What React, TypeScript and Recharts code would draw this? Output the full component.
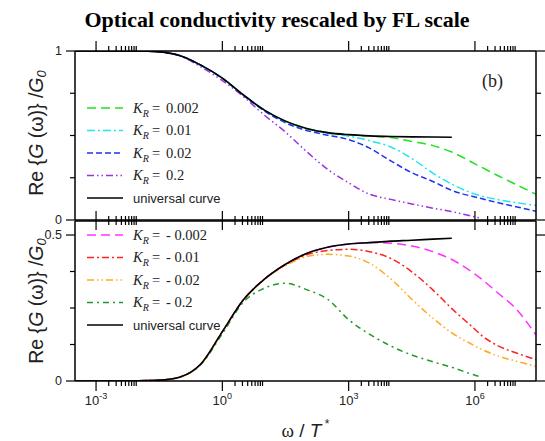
import React from 'react';
import { LineChart, Line, XAxis, YAxis } from 'recharts';

// log10(omega / T*) sample points shared by every curve
const logOmega = [-3.5, -3, -2.5, -2, -1.5, -1, -0.5, 0, 0.5, 1, 1.5, 2, 2.5, 3, 3.5, 4, 4.5, 5, 5.45, 6, 6.15, 6.5, 7, 7.45];

// upper panel (K_R > 0)
const universalTop = [1, 1, 1, 1, 0.995, 0.972, 0.915, 0.84, 0.74, 0.65, 0.585, 0.542, 0.517, 0.505, 0.498, 0.494, 0.492, 0.491, 0.49, null, null, null, null, null];
const kr0002 = [1, 1, 1, 1, 0.995, 0.972, 0.915, 0.84, 0.74, 0.65, 0.585, 0.542, 0.517, 0.505, 0.497, 0.488, 0.465, 0.44, 0.402, 0.332, 0.313, 0.268, 0.207, 0.152];
const kr001 = [1, 1, 1, 1, 0.995, 0.972, 0.915, 0.84, 0.74, 0.65, 0.583, 0.54, 0.513, 0.496, 0.469, 0.432, 0.364, 0.277, 0.212, 0.153, 0.142, 0.123, 0.102, 0.086];
const kr002 = [1, 1, 1, 1, 0.995, 0.972, 0.914, 0.838, 0.737, 0.645, 0.575, 0.53, 0.502, 0.476, 0.425, 0.35, 0.28, 0.228, 0.175, 0.136, 0.127, 0.105, 0.077, 0.052];
const kr02 = [1, 1, 1, 1, 0.995, 0.97, 0.905, 0.825, 0.73, 0.62, 0.52, 0.405, 0.3, 0.22, 0.152, 0.122, 0.095, 0.07, 0.05, 0.018, 0.01, null, null, null];

// lower panel (K_R < 0)
const universalBot = [0, 0, 0, 0.001, 0.003, 0.014, 0.06, 0.169, 0.278, 0.349, 0.4, 0.437, 0.458, 0.469, 0.474, 0.479, 0.482, 0.486, 0.489, null, null, null, null, null];
const krm0002 = [0, 0, 0, 0.001, 0.003, 0.014, 0.06, 0.169, 0.278, 0.349, 0.4, 0.437, 0.458, 0.469, 0.474, 0.472, 0.462, 0.443, 0.416, 0.366, 0.35, 0.307, 0.243, 0.158];
const krm001 = [0, 0, 0, 0.001, 0.003, 0.014, 0.06, 0.169, 0.278, 0.349, 0.398, 0.432, 0.447, 0.451, 0.443, 0.42, 0.374, 0.312, 0.248, 0.177, 0.157, 0.124, 0.095, 0.073];
const krm002 = [0, 0, 0, 0.001, 0.003, 0.014, 0.06, 0.169, 0.277, 0.347, 0.395, 0.426, 0.434, 0.428, 0.403, 0.35, 0.28, 0.215, 0.165, 0.12, 0.109, 0.088, 0.067, 0.05];
const krm02 = [0, 0, 0, 0.001, 0.003, 0.014, 0.058, 0.162, 0.27, 0.318, 0.335, 0.313, 0.28, 0.21, 0.16, 0.12, 0.089, 0.066, 0.047, 0.02, 0.014, null, null, null];

const topLabels = ['0.002', '0.01', '0.02', '0.2'];
const botLabels = ['- 0.002', '- 0.01', '- 0.02', '- 0.2'];

const majorTicks = [1e-3, 1, 1e3, 1e6];
const minorFactors = [2, 3, 4, 5, 6, 7, 8, 9];
const xTicks = majorTicks.flatMap((m) => [m, ...minorFactors.map((f) => f * m)]);
const xDomain = [Math.pow(10, -3.5), Math.pow(10, 7.45)];

const topYTicks = [0, 0.25, 0.5, 0.75, 1];
const topYMajor = [0, 1];
const botYTicks = [0, 0.125, 0.25, 0.375, 0.5];
const botYMajor = [0, 0.5];

const topRows = logOmega.map((l, i) => ({
  w: Math.pow(10, l), u: universalTop[i], a: kr0002[i], b: kr001[i], c: kr002[i], d: kr02[i],
}));
const botRows = logOmega.map((l, i) => ({
  w: Math.pow(10, l), u: universalBot[i], a: krm0002[i], b: krm001[i], c: krm002[i], d: krm02[i],
}));

const topSeries = [
  { key: 'a', color: '#22e022', dash: '9 5' },
  { key: 'b', color: '#22e5f0', dash: '8 3 2 3' },
  { key: 'c', color: '#2233ee', dash: '6 3' },
  { key: 'd', color: '#9933dd', dash: '7 3 1.5 3 1.5 3' },
];
const botSeries = [
  { key: 'a', color: '#ff33ff', dash: '9 5' },
  { key: 'b', color: '#ff2222', dash: '7 3 2 3' },
  { key: 'c', color: '#ffaa22', dash: '7 3 1.5 3 1.5 3' },
  { key: 'd', color: '#22992a', dash: '6 4 2 4' },
];

const SANS = 'Liberation Sans, Arial, sans-serif';
const SERIF = 'Liberation Serif, Times New Roman, serif';
const frame = { stroke: '#000', strokeWidth: 1.5 };

function XTick({ x, y, payload, dir, showLabel }: any) {
  const e = Math.log10(payload.value);
  const major = Math.abs(e - Math.round(e)) < 1e-9;
  const len = major ? 10 : 5;
  return (
    <g>
      <line x1={x} x2={x} y1={y} y2={y + dir * len} stroke="#000" strokeWidth={1.2} />
      {showLabel && major && (
        <text x={x} y={y + 24} textAnchor="middle" fontFamily={SANS} fontSize={13} fill="#222">
          10<tspan dy={-6} fontSize={9}>{Math.round(e)}</tspan>
        </text>
      )}
    </g>
  );
}

function YTick({ x, y, payload, side, majors, showLabel }: any) {
  const major = majors.includes(payload.value);
  const len = major ? 9 : 5;
  return (
    <g>
      <line x1={x} x2={x + side * len} y1={y} y2={y} stroke="#000" strokeWidth={1.2} />
      {showLabel && major && (
        <text x={x - 13} y={y} textAnchor="end" dominantBaseline="central" fontFamily={SANS} fontSize={12.5} fill="#222">
          {payload.value}
        </text>
      )}
    </g>
  );
}

function YLabel({ cx, cy }: any) {
  return (
    <text x={cx} y={cy} transform={`rotate(-90 ${cx} ${cy})`} textAnchor="middle" dominantBaseline="central"
      fontFamily={SANS} fontSize={19.5} fill="#222">
      Re {'{'}<tspan fontStyle="italic">G</tspan> (ω){'}'} /<tspan fontStyle="italic">G</tspan>
      <tspan fontSize={13} dy={5} fontStyle="italic">0</tspan>
    </text>
  );
}

function XLabel({ viewBox }: any) {
  const cx = viewBox ? viewBox.x + viewBox.width / 2 : 305;
  const cy = (viewBox ? viewBox.y : 381) + 56;
  return (
    <text x={cx} y={cy} textAnchor="middle" fontSize={19} fill="#222" fontFamily={SANS}>
      <tspan fontFamily={SERIF}>ω</tspan> / <tspan fontStyle="italic">T</tspan>
      <tspan dy={-9} fontSize={12}> *</tspan>
    </text>
  );
}

function Panel({ rows, series, yDomain, yTicks, yMajor, height, margin, bottomLabels }: any) {
  const tickX = (dir: number, showLabel: boolean) => (p: any) => <XTick {...p} dir={dir} showLabel={showLabel} />;
  return (
    <LineChart width={545} height={height} data={rows} margin={margin}>
      <XAxis xAxisId="b" dataKey="w" type="number" scale="log" domain={xDomain} allowDataOverflow
        ticks={xTicks} interval={0} height={1} tickSize={0} tickMargin={0} axisLine={frame} tickLine={false}
        tick={tickX(1, bottomLabels)} label={bottomLabels ? <XLabel /> : undefined} />
      <XAxis xAxisId="t" orientation="top" dataKey="w" type="number" scale="log" domain={xDomain} allowDataOverflow
        ticks={xTicks} interval={0} height={1} tickSize={0} tickMargin={0} axisLine={frame} tickLine={false}
        tick={tickX(-1, false)} />
      <YAxis yAxisId="l" type="number" domain={yDomain} allowDataOverflow ticks={yTicks} interval={0} width={1}
        tickSize={0} tickMargin={0} axisLine={frame} tickLine={false}
        tick={(p: any) => <YTick {...p} side={-1} majors={yMajor} showLabel />} />
      <YAxis yAxisId="r" orientation="right" type="number" domain={yDomain} allowDataOverflow ticks={yTicks} interval={0}
        width={1} tickSize={0} tickMargin={0} axisLine={frame} tickLine={false}
        tick={(p: any) => <YTick {...p} side={1} majors={yMajor} showLabel={false} />} />
      {series.map((s: any) => (
        <Line key={s.key} xAxisId="b" yAxisId="l" dataKey={s.key} type="monotone" stroke={s.color}
          strokeWidth={1.5} strokeDasharray={s.dash} dot={false} isAnimationActive={false} />
      ))}
      <Line xAxisId="b" yAxisId="l" dataKey="u" type="monotone" stroke="#000" strokeWidth={1.6}
        dot={false} isAnimationActive={false} />
    </LineChart>
  );
}

function LegendBlock({ series, labels, y0 }: any) {
  const step = 22.5;
  return (
    <g>
      {series.map((s: any, i: number) => {
        const y = y0 + i * step;
        return (
          <g key={s.key}>
            <line x1={87} x2={123} y1={y} y2={y} stroke={s.color} strokeWidth={1.5} strokeDasharray={s.dash} />
            <text x={133} y={y + 4.5} fontFamily={SERIF} fontSize={14.5} fill="#222">
              <tspan fontStyle="italic">K</tspan>
              <tspan fontStyle="italic" fontSize={10} dy={4}>R</tspan>
              <tspan x={152} dy={-4}>=</tspan>
              <tspan x={166}>{labels[i]}</tspan>
            </text>
          </g>
        );
      })}
      <line x1={87} x2={123} y1={y0 + 4 * step} y2={y0 + 4 * step} stroke="#000" strokeWidth={1.6} />
      <text x={133} y={y0 + 4 * step + 4.5} fontFamily={SANS} fontSize={13} fill="#222">universal curve</text>
    </g>
  );
}

export default function App() {
  return (
    <div style={{ position: 'absolute', left: 0, top: 0, width: 545, height: 441, background: '#fff' }}>
      <div style={{ position: 'absolute', left: 0, top: 0 }}>
        <Panel rows={topRows} series={topSeries} yDomain={[0, 1]} yTicks={topYTicks} yMajor={topYMajor}
          height={230} margin={{ top: 50, right: 8, bottom: 9, left: 74 }} bottomLabels={false} />
      </div>
      <div style={{ position: 'absolute', left: 0, top: 0 }}>
        <Panel rows={botRows} series={botSeries} yDomain={[0, 0.548]} yTicks={botYTicks} yMajor={botYMajor}
          height={441} margin={{ top: 220, right: 8, bottom: 59, left: 74 }} bottomLabels />
      </div>
      <svg width={545} height={441} style={{ position: 'absolute', left: 0, top: 0, pointerEvents: 'none' }}>
        <text x={277} y={27} textAnchor="middle" fontFamily={SERIF} fontWeight="bold" fontSize={22} fill="#000">
          Optical conductivity rescaled by FL scale
        </text>
        <text x={482} y={87} fontFamily={SERIF} fontSize={18} fill="#222">(b)</text>
        <YLabel cx={36} cy={133} />
        <YLabel cx={36} cy={301} />
        <LegendBlock series={topSeries} labels={topLabels} y0={108} />
        <LegendBlock series={botSeries} labels={botLabels} y0={235} />
      </svg>
    </div>
  );
}
